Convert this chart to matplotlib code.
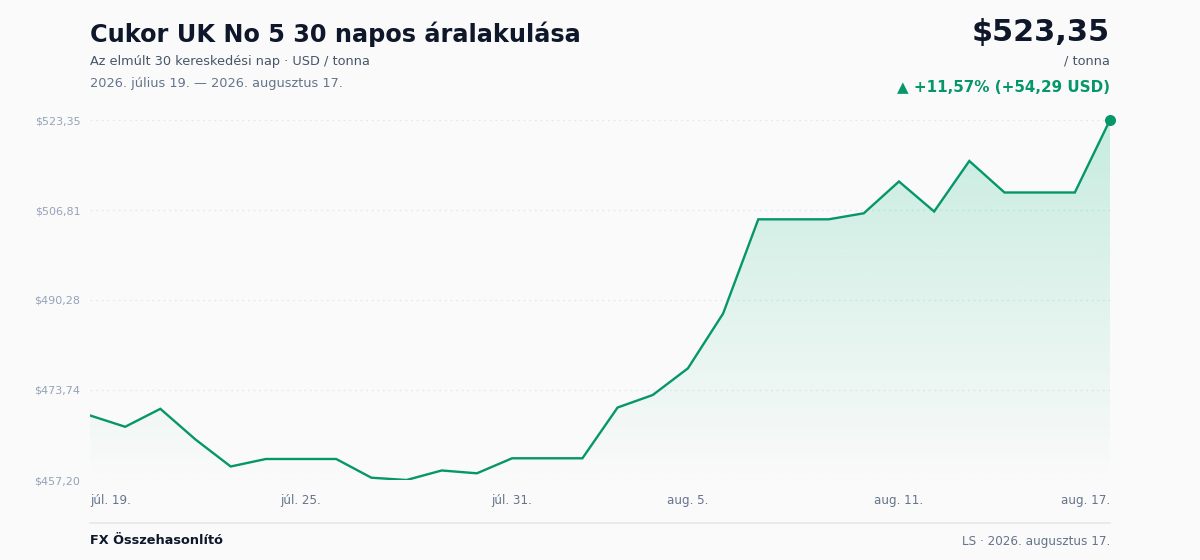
import numpy as np
import matplotlib
matplotlib.use("Agg")
import matplotlib.pyplot as plt
from matplotlib.colors import to_rgb
from matplotlib.patches import Polygon

plt.rcParams["font.family"] = ["DejaVu Sans"]

# ──────────────────────────────────────────────
# Data
# ──────────────────────────────────────────────
PRICES = [
    469.06, 466.98, 470.28, 464.64, 459.68, 461.06, 461.06, 461.06, 457.62, 457.20,
    458.95, 458.43, 461.19, 461.19, 461.19, 470.52, 472.82, 477.72, 487.79, 505.10,
    505.10, 505.10, 506.21, 512.05, 506.54, 515.82, 510.03, 510.03, 510.03, 523.35,
]
Y_TICKS = [457.20, 473.74, 490.28, 506.81, 523.35]
TICK_IDX = [0, 6, 12, 17, 23, 29]
TICK_LABELS = ["júl. 19.", "júl. 25.", "júl. 31.", "aug. 5.", "aug. 11.", "aug. 17."]

TITLE = "Cukor UK No 5 30 napos áralakulása"
SUBTITLE = "Az elmúlt 30 kereskedési nap · USD / tonna"
DATE_RANGE = "2026. július 19. — 2026. augusztus 17."
UNIT = "/ tonna"
FOOTER_LEFT = "FX Összehasonlító"
FOOTER_RIGHT = "LS · 2026. augusztus 17."

# ──────────────────────────────────────────────
# Style
# ──────────────────────────────────────────────
BG = "#fafafa"
LINE = "#059669"
FILL = "#10b981"
DARK = "#0f172a"
MUTED = "#475569"
SOFT = "#64748b"
TICK = "#94a3b8"
W, H = 1200, 560


def fmt_hu(v):
    return f"{v:.2f}".replace(".", ",")


fig = plt.figure(figsize=(W / 100, H / 100), dpi=100, facecolor=BG)
ax = fig.add_axes([90 / W, (H - 480) / H, 1020 / W, 360 / H], facecolor=BG)

x = np.arange(len(PRICES))
y = np.array(PRICES)
lo, hi = Y_TICKS[0], Y_TICKS[-1]

ax.set_xlim(0, len(PRICES) - 1)
ax.set_ylim(lo, hi)

# gradient area under the line
rgb = to_rgb(FILL)
grad = np.zeros((256, 1, 4))
grad[..., 0], grad[..., 1], grad[..., 2] = rgb
grad[:, 0, 3] = np.linspace(0.22, 0.0, 256)
img = ax.imshow(grad, aspect="auto", extent=[0, len(PRICES) - 1, lo, hi],
                origin="upper", zorder=1)
poly = Polygon(np.column_stack([np.r_[x, x[-1], x[0]], np.r_[y, lo, lo]]),
               closed=True, facecolor="none", edgecolor="none")
ax.add_patch(poly)
img.set_clip_path(poly)

# grid
for t in Y_TICKS:
    ax.axhline(t, color="#e2e8f0", lw=0.9, ls=(0, (1.5, 3)), zorder=0)

ax.plot(x, y, color=LINE, lw=1.7, zorder=3, solid_joinstyle="miter")
ax.scatter([x[-1]], [y[-1]], s=48, color=LINE, zorder=4, clip_on=False)

ax.set_yticks(Y_TICKS)
ax.set_yticklabels(["$" + fmt_hu(t) for t in Y_TICKS], fontsize=8, color=TICK)
ax.set_xticks(TICK_IDX)
ax.set_xticklabels(TICK_LABELS, fontsize=8.6, color=SOFT)
for lbl in ax.get_xticklabels()[:1]:
    lbl.set_ha("left")
for lbl in ax.get_xticklabels()[-1:]:
    lbl.set_ha("right")
ax.tick_params(axis="both", length=0)
ax.tick_params(axis="y", pad=7)
ax.tick_params(axis="x", pad=10)
for s in ax.spines.values():
    s.set_visible(False)

# header
def px(xp, yp):
    return xp / W, 1 - yp / H

fig.text(*px(90, 34), TITLE, fontsize=17.25, fontweight="bold", color=DARK, va="center")
fig.text(*px(90, 61), SUBTITLE, fontsize=9.25, color=MUTED, va="center")
fig.text(*px(90, 83), DATE_RANGE, fontsize=9.25, color=SOFT, va="center")

change = PRICES[-1] - PRICES[0]
pct = change / PRICES[0] * 100
fig.text(*px(1110, 33), "$" + fmt_hu(PRICES[-1]), fontsize=21.8, fontweight="bold",
         color=DARK, ha="right", va="center")
fig.text(*px(1110, 61), UNIT, fontsize=9.25, color=MUTED, ha="right", va="center")
fig.text(*px(1110, 87), f"▲ +{fmt_hu(pct)}% (+{fmt_hu(change)} USD)", fontsize=10.9,
         fontweight="bold", color=LINE, ha="right", va="center")

# footer
fig.add_artist(plt.Line2D([90 / W, 1110 / W], [1 - 523 / H] * 2, color="#e5e7eb", lw=1.2))
fig.text(*px(90, 541), FOOTER_LEFT, fontsize=9.3, fontweight="bold", color=DARK, va="center")
fig.text(*px(1110, 541), FOOTER_RIGHT, fontsize=8.65, color=SOFT, ha="right", va="center")

fig.savefig("out.png", dpi=100, facecolor=BG)
